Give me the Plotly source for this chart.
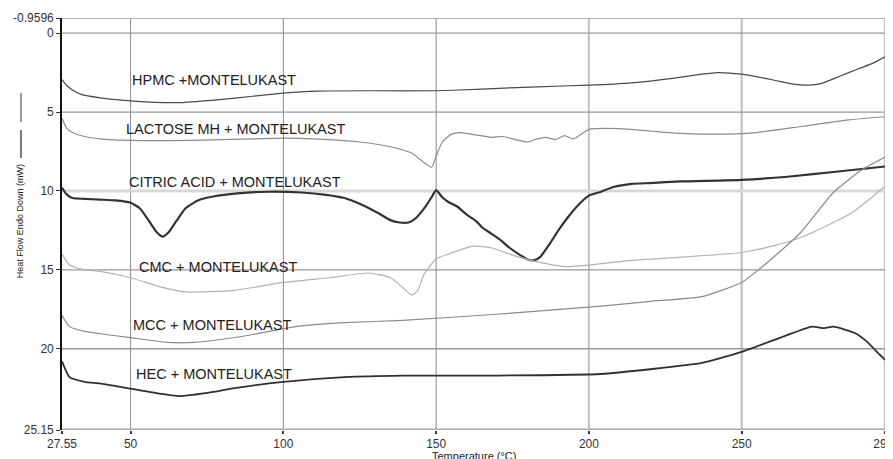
import plotly.graph_objects as go

# ---------------- data ----------------
hpmc_t = [27.55, 29, 31, 34, 40, 47, 55, 67, 80, 90, 100, 111, 130, 150, 165, 183, 200, 214, 228, 237, 242, 250, 256, 261, 266, 272, 276, 280, 285, 289, 293, 296.9]
hpmc_v = [2.95, 3.3, 3.6, 3.9, 4.1, 4.25, 4.35, 4.4, 4.2, 4.0, 3.8, 3.67, 3.65, 3.65, 3.55, 3.4, 3.3, 3.15, 2.85, 2.6, 2.5, 2.6, 2.8, 3.0, 3.2, 3.3, 3.2, 2.9, 2.5, 2.2, 1.9, 1.5]

lact_t = [27.55, 29, 31, 35, 40, 50, 70, 90, 100, 110, 125, 135, 142, 146, 148.5, 150, 152, 155, 158, 163, 168, 172, 176, 180, 183, 186, 189, 192, 195, 200, 210, 220, 230, 245, 255, 270, 285, 296.9]
lact_v = [5.4, 6.0, 6.3, 6.55, 6.7, 6.8, 6.8, 6.7, 6.65, 6.7, 6.9, 7.2, 7.6, 8.2, 8.5, 7.8, 6.9, 6.4, 6.3, 6.45, 6.6, 6.55, 6.75, 6.9, 6.7, 6.6, 6.75, 6.5, 6.7, 6.1, 6.05, 6.2, 6.35, 6.4, 6.3, 5.9, 5.5, 5.3]

citric_t = [27.55, 29, 31, 35, 40, 45, 50, 53, 56, 58.5, 60.5, 62.5, 65, 68, 72, 77, 85, 95, 106, 114, 120, 126, 131, 135, 138, 141, 143.5, 146.5, 148.5, 150, 152, 154, 157, 160, 163, 165, 168, 171, 174, 177, 180, 182, 184, 187, 190, 193, 196, 200, 204, 208, 214, 220, 230, 250, 265, 280, 296.9]
citric_v = [9.8, 10.2, 10.45, 10.5, 10.55, 10.6, 10.75, 11.1, 11.9, 12.6, 12.9, 12.6, 11.9, 11.1, 10.6, 10.35, 10.15, 10.05, 10.1, 10.25, 10.45, 10.9, 11.4, 11.85, 12.0, 12.0, 11.7, 11.0, 10.4, 9.95, 10.4, 10.7, 11.0, 11.5, 11.9, 12.3, 12.7, 13.1, 13.6, 14.0, 14.35, 14.4, 14.2, 13.4, 12.5, 11.7, 11.0, 10.3, 10.05, 9.75, 9.55, 9.5, 9.4, 9.3, 9.1, 8.8, 8.45]

cmc_t = [27.55, 30, 35, 40, 50, 60, 68, 84, 100, 115, 128, 135, 139, 142, 144, 146, 150, 154, 162, 168, 174, 181, 192, 200, 214, 230, 250, 260, 270, 280, 286, 292, 296.9]
cmc_v = [14.0, 14.7, 15.0, 15.1, 15.5, 16.1, 16.4, 16.3, 15.8, 15.5, 15.2, 15.5, 16.1, 16.6, 16.3, 15.3, 14.3, 14.0, 13.5, 13.6, 14.0, 14.4, 14.8, 14.7, 14.4, 14.2, 13.9, 13.5, 12.9, 12.0, 11.4, 10.5, 9.7]

mcc_t = [27.55, 30, 35, 40, 50, 62, 71, 80, 90, 104, 120, 139, 171, 204, 220, 237, 250, 258, 269, 280, 289, 296.9]
mcc_v = [17.9, 18.6, 18.9, 19.05, 19.3, 19.6, 19.6, 19.4, 19.1, 18.6, 18.35, 18.2, 17.8, 17.3, 17.0, 16.7, 15.8, 14.6, 12.7, 10.1, 8.7, 7.85]

hec_t = [27.55, 30, 35, 40, 49, 58, 66, 75, 84, 100, 120, 139, 170, 204, 220, 237, 250, 264, 273, 277, 280, 284, 287, 291, 294.5, 296.9]
hec_v = [20.8, 21.8, 22.1, 22.2, 22.5, 22.8, 23.0, 22.8, 22.5, 22.1, 21.8, 21.7, 21.7, 21.6, 21.3, 20.9, 20.2, 19.2, 18.6, 18.7, 18.6, 18.8, 19.0, 19.55, 20.25, 20.7]

labels = ["HPMC +MONTELUKAST", "LACTOSE MH + MONTELUKAST", "CITRIC ACID + MONTELUKAST",
          "CMC + MONTELUKAST", "MCC + MONTELUKAST", "HEC + MONTELUKAST"]

x_tickvals = [27.55, 50, 100, 150, 200, 250, 296.9]
x_ticktext = ["27.55", "50", "100", "150", "200", "250", "296."]
y_tickvals = [-0.9596, 0, 5, 10, 15, 20, 25.15]
y_ticktext = ["-0.9596", "0", "5", "10", "15", "20", "25.15"]

# ---------------- figure ----------------
FONT = "Liberation Sans, Arial, sans-serif"
fig = go.Figure()

series = [
    (hpmc_t, hpmc_v, "#4a4a4a", 1.2),
    (lact_t, lact_v, "#8c8c8c", 1.2),
    (citric_t, citric_v, "#333333", 2.2),
    (cmc_t, cmc_v, "#b2b2b2", 1.2),
    (mcc_t, mcc_v, "#8a8a8a", 1.2),
    (hec_t, hec_v, "#303030", 1.8),
]
for (t, v, c, w), name in zip(series, labels):
    fig.add_trace(go.Scatter(x=t, y=v, mode="lines", name=name,
                             line=dict(color=c, width=w, shape="spline", smoothing=0.5),
                             showlegend=False, hoverinfo="x+y+name"))

# gridlines
shapes = []
for xv in [50, 100, 150, 200]:
    shapes.append(dict(type="line", xref="x", yref="paper", x0=xv, x1=xv, y0=0, y1=1,
                       line=dict(color="#8a8a8a", width=1), layer="below"))
for xv in [250, 296.9]:
    shapes.append(dict(type="line", xref="x", yref="paper", x0=xv, x1=xv, y0=0, y1=1,
                       line=dict(color="#c8c8c8", width=2.5), layer="below"))
for yv in [0, 5, 15, 20]:
    shapes.append(dict(type="line", xref="paper", yref="y", x0=0, x1=1, y0=yv, y1=yv,
                       line=dict(color="#999999", width=1.3), layer="below"))
shapes.append(dict(type="line", xref="paper", yref="y", x0=0, x1=1, y0=10, y1=10,
                   line=dict(color="#d8d8d8", width=3), layer="below"))
shapes.append(dict(type="line", xref="paper", yref="y", x0=0, x1=1, y0=-0.9596, y1=-0.9596,
                   line=dict(color="#b0b0b0", width=2), layer="below"))
shapes.append(dict(type="line", xref="paper", yref="y", x0=0, x1=1, y0=25.15, y1=25.15,
                   line=dict(color="#aaaaaa", width=3), layer="below"))
# legend-like marks beside the y title
shapes.append(dict(type="line", xref="paper", yref="paper", x0=-0.0498, x1=-0.0498, y0=0.748, y1=0.818,
                   line=dict(color="#9a9a9a", width=2)))
shapes.append(dict(type="line", xref="paper", yref="paper", x0=-0.0498, x1=-0.0498, y0=0.660, y1=0.728,
                   line=dict(color="#333333", width=1.3)))

ann = []
label_pos = [(49.7, 2.97), (48.0, 6.08), (48.7, 9.43), (52.0, 14.8), (50.0, 18.5), (51.0, 21.6)]
for (lx, ly), txt in zip(label_pos, labels):
    ann.append(dict(x=lx, y=ly, xref="x", yref="y", text=txt, showarrow=False,
                    xanchor="left", yanchor="middle",
                    font=dict(family=FONT, size=14.5, color="#222222")))
ann.append(dict(x=-0.051, y=0.507, xref="paper", yref="paper", text="Heat Flow Endo Down (mW)",
                textangle=-90, showarrow=False, xanchor="center", yanchor="middle",
                font=dict(family=FONT, size=9, color="#222222")))
ann.append(dict(x=0.5, y=-0.064, xref="paper", yref="paper", text="Temperature (°C)",
                showarrow=False, xanchor="center", yanchor="middle",
                font=dict(family=FONT, size=11, color="#222222")))

# the page body has an 8px default margin, so margins are offset to compensate
fig.update_layout(
    width=893, height=459,
    margin=dict(l=54, r=16, t=10, b=37),
    paper_bgcolor="white", plot_bgcolor="white",
    shapes=shapes, annotations=ann,
    font=dict(family=FONT, color="#333333"),
)
fig.update_xaxes(range=[27.55, 296.9], tickvals=x_tickvals, ticktext=x_ticktext,
                 showgrid=False, zeroline=False, showline=False,
                 ticks="outside", ticklen=3, tickcolor="#333333", tickwidth=1.5,
                 ticklabeloverflow="allow",
                 tickfont=dict(family=FONT, size=12, color="#333333"), automargin=False)
fig.update_yaxes(range=[25.15, -0.9596], tickvals=y_tickvals, ticktext=y_ticktext,
                 showgrid=False, zeroline=False, showline=True, linecolor="#111111", linewidth=1.6,
                 ticks="outside", ticklen=4, tickcolor="#333333",
                 tickfont=dict(family=FONT, size=12, color="#333333"), automargin=False)

fig.write_html("out.html")
